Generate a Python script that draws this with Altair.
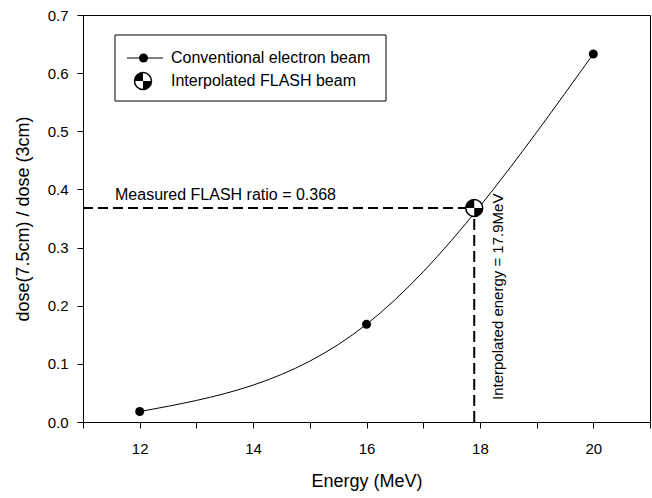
import altair as alt
import pandas as pd

# ---- data ----
energy = [12, 16, 20]
ratio = [0.018, 0.168, 0.633]
flash_energy = [17.9]
flash_ratio = [0.368]
x_domain = [11, 21]
y_domain = [0.0, 0.7]
x_ticks = [11, 12, 13, 14, 15, 16, 17, 18, 19, 20, 21]
y_ticks = [0.0, 0.1, 0.2, 0.3, 0.4, 0.5, 0.6, 0.7]
legend_labels = ["Conventional electron beam", "Interpolated FLASH beam"]
ratio_label = ["Measured FLASH ratio = 0.368"]
energy_label = ["Interpolated energy = 17.9MeV"]
x_title = "Energy (MeV)"
y_title = "dose(7.5cm) / dose (3cm)"

FONT = "Liberation Sans"
QUAD = "M0,0L-1,0A1,1,0,0,1,0,-1Z M0,0L1,0A1,1,0,0,1,0,1Z"

conv = pd.DataFrame({"energy": energy, "ratio": ratio})
flash = pd.DataFrame({
    "energy": flash_energy,
    "ratio": flash_ratio,
    "x0": [x_domain[0]],
    "y0": [y_domain[0]],
    "rlabel": ratio_label,
    "elabel": energy_label,
})
one = pd.DataFrame({"lab1": [legend_labels[0]], "lab2": [legend_labels[1]]})

X = alt.X(
    "energy:Q",
    scale=alt.Scale(domain=x_domain, nice=False, zero=False),
    axis=alt.Axis(
        values=x_ticks,
        format="d",
        labelExpr="datum.value % 2 == 0 ? datum.label : ''",
        title=x_title,
        grid=False,
        tickSize=6,
        labelPadding=13,
        titlePadding=16,
    ),
)
Y = alt.Y(
    "ratio:Q",
    scale=alt.Scale(domain=y_domain, nice=False, zero=False),
    axis=alt.Axis(
        values=y_ticks,
        format=".1f",
        title=y_title,
        grid=False,
        tickSize=6,
        labelPadding=9,
        titlePadding=15,
    ),
)

curve = alt.Chart(conv).mark_line(
    interpolate="natural", color="black", strokeWidth=1
).encode(x=X, y=Y)

points = alt.Chart(conv).mark_point(
    shape="circle", filled=True, color="black", size=81, opacity=1
).encode(x="energy:Q", y="ratio:Q")

hdash = alt.Chart(flash).mark_rule(
    strokeDash=[10, 5], strokeWidth=2, color="black"
).encode(x="x0:Q", x2="energy:Q", y="ratio:Q")

vdash = alt.Chart(flash).mark_rule(
    strokeDash=[11, 5], strokeWidth=2, color="black"
).encode(x="energy:Q", y="y0:Q", y2="ratio:Q")

flash_bg = alt.Chart(flash).mark_point(
    shape="circle", filled=True, fill="white", stroke="black",
    strokeWidth=1.5, size=289, opacity=1
).encode(x="energy:Q", y="ratio:Q")

flash_q = alt.Chart(flash).mark_point(
    shape=QUAD, filled=True, color="black", size=289, opacity=1, strokeWidth=0
).encode(x="energy:Q", y="ratio:Q")

rtext = alt.Chart(flash).mark_text(
    align="left", baseline="alphabetic", fontSize=16, font=FONT,
    color="black", dx=32, dy=-7.6
).encode(x="x0:Q", y="ratio:Q", text="rlabel:N")

etext = alt.Chart(flash).mark_text(
    align="left", baseline="alphabetic", fontSize=15, font=FONT,
    color="black", angle=270, dx=22, dy=29
).encode(x="energy:Q", y="y0:Q", text="elabel:N")

# ---- legend ----
leg_box = alt.Chart(one).mark_rect(
    fill="white", stroke="black", strokeWidth=1
).encode(x=alt.value(32), x2=alt.value(303), y=alt.value(20), y2=alt.value(86))

leg_line = alt.Chart(one).mark_rule(color="black", strokeWidth=1).encode(
    x=alt.value(44), x2=alt.value(80), y=alt.value(43)
)
leg_pt = alt.Chart(one).mark_point(
    shape="circle", filled=True, color="black", size=81, opacity=1
).encode(x=alt.value(60.5), y=alt.value(43))
leg_fbg = alt.Chart(one).mark_point(
    shape="circle", filled=True, fill="white", stroke="black",
    strokeWidth=1.5, size=289, opacity=1
).encode(x=alt.value(60), y=alt.value(66))
leg_fq = alt.Chart(one).mark_point(
    shape=QUAD, filled=True, color="black", size=289, opacity=1, strokeWidth=0
).encode(x=alt.value(60), y=alt.value(66))
leg_t1 = alt.Chart(one).mark_text(
    align="left", baseline="middle", fontSize=16, font=FONT, color="black"
).encode(x=alt.value(88), y=alt.value(43), text="lab1:N")
leg_t2 = alt.Chart(one).mark_text(
    align="left", baseline="middle", fontSize=16, font=FONT, color="black"
).encode(x=alt.value(88), y=alt.value(66), text="lab2:N")

chart = alt.layer(
    curve, hdash, vdash, points, flash_bg, flash_q, rtext, etext,
    leg_box, leg_line, leg_pt, leg_fbg, leg_fq, leg_t1, leg_t2,
).properties(
    width=567,
    height=407,
    padding={"left": 83, "top": 15, "right": 2, "bottom": 76},
    autosize="none",
    background="white",
).configure_view(
    stroke="black", strokeWidth=1
).configure_axis(
    labelFont=FONT, titleFont=FONT, labelFontSize=15, titleFontSize=18,
    titleFontWeight="normal", labelColor="black", titleColor="black",
    domainColor="black", tickColor="black", domainWidth=1, tickWidth=1,
)

chart.save("out.html", embed_options={"renderer": "svg", "actions": False})
